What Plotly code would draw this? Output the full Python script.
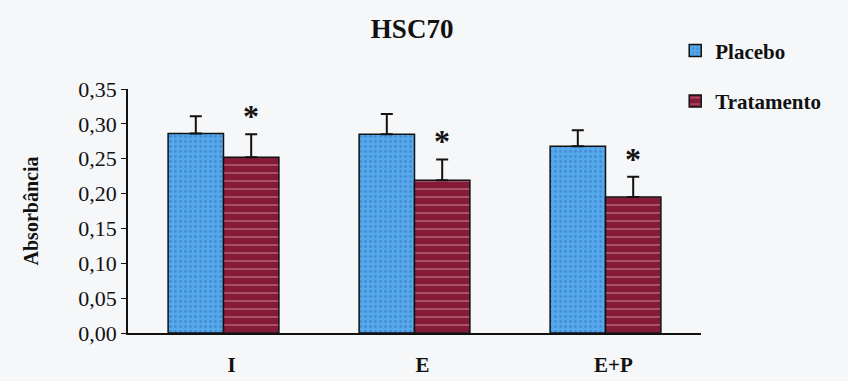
import plotly.graph_objects as go

categories = ["I", "E", "E+P"]
placebo = [0.286, 0.285, 0.268]
placebo_err = [0.025, 0.029, 0.023]
tratamento = [0.252, 0.219, 0.195]
tratamento_err = [0.033, 0.030, 0.029]
signif = ["*", "*", "*"]
yticks = [0.0, 0.05, 0.10, 0.15, 0.20, 0.25, 0.30, 0.35]
ytick_labels = [f"{v:.2f}".replace(".", ",") for v in yticks]

serif = "Liberation Serif"
bg = "#f5f7f9"

fig = go.Figure()
fig.add_trace(go.Bar(
    name="Placebo", x=categories, y=placebo, legendgroup="p",
    marker=dict(color="#4d9fe3", line=dict(color="#111", width=1.5),
                pattern=dict(shape=".", fgcolor="#2f6fc0", bgcolor="#55a8ea", size=5, solidity=0.25)),
    error_y=dict(type="data", array=placebo_err, arrayminus=[0]*3, symmetric=False,
                 color="#111", thickness=2, width=6),
))
fig.add_trace(go.Bar(
    name="Tratamento", x=categories, y=tratamento, legendgroup="t",
    marker=dict(color="#8a1c3c", line=dict(color="#111", width=1.5),
                pattern=dict(shape="-", fgcolor="#c98a8a", bgcolor="#861a3a", size=8, solidity=0.25)),
    error_y=dict(type="data", array=tratamento_err, arrayminus=[0]*3, symmetric=False,
                 color="#111", thickness=2, width=6),
))

for c, v, e, s in zip(categories, tratamento, tratamento_err, signif):
    fig.add_annotation(x=c, y=v + e, text=f"<b>{s}</b>", showarrow=False, xref="x", yref="y",
                       xshift=27, yshift=-2, yanchor="bottom",
                       font=dict(family=serif, size=32, color="#111"))

fig.update_layout(
    width=848, height=381,
    margin=dict(l=128, r=147, t=89, b=48, autoexpand=False),
    paper_bgcolor=bg, plot_bgcolor=bg,
    barmode="group", bargap=0.42, bargroupgap=0,
    title=dict(text="<b>HSC70</b>", x=0.486, xanchor="center", y=0.925, yanchor="middle",
               font=dict(family=serif, size=27, color="#111")),
    font=dict(family=serif, color="#111"),
    legend=dict(x=0.955, y=1.24, xanchor="left", yanchor="top",
                font=dict(family=serif, size=21, color="#111", weight="bold"),
                tracegroupgap=20, traceorder="grouped", bgcolor="rgba(0,0,0,0)"),
    showlegend=True,
)
fig.update_xaxes(range=[-0.5, 2.5], showline=True, linecolor="#111", linewidth=1.5,
                 ticks="", tickfont=dict(family=serif, size=21, color="#111", weight="bold"),
                 ticklabelstandoff=12, ticklabelshift=8,
                 showgrid=False, zeroline=False, automargin=False)
fig.update_yaxes(range=[0, 0.35], tickvals=yticks, ticktext=ytick_labels,
                 showline=True, linecolor="#111", linewidth=1.5, ticks="outside", ticklen=5,
                 tickcolor="#111", tickfont=dict(family=serif, size=22, color="#111"),
                 showgrid=False, zeroline=False, automargin=False,
                 title=dict(text="<b>Absorbância</b>", font=dict(family=serif, size=20, color="#111"),
                            standoff=34))

fig.write_html("out.html")
